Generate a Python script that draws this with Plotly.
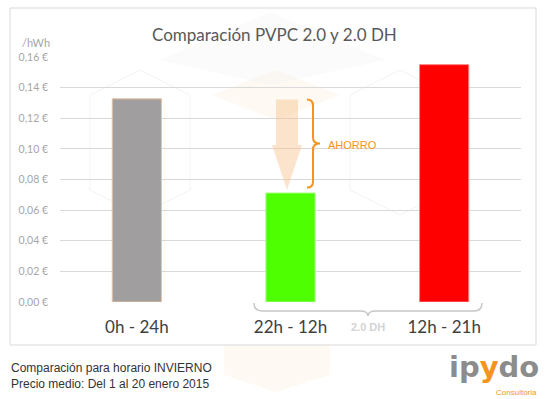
import plotly.graph_objects as go

# ---- data ----
categories = ["0h - 24h", "22h - 12h", "12h - 21h"]
values = [0.1327, 0.0712, 0.155]
bar_colors = ["#a09e9e", "#4dff00", "#ff0000"]
bar_lines = ["#e6c3a5", "#a8ff80", "#ff8080"]
y_ticks = [0.00, 0.02, 0.04, 0.06, 0.08, 0.10, 0.12, 0.14, 0.16]
y_ticktext = [f"{v:.2f}".replace(".", ",") + " €" for v in y_ticks]

W, H = 546, 399
L, R, T, B = 60, 25, 57, 97
PW, PH = W - L - R, H - T - B


def px(x):
    return (x - L) / PW


def py(y):
    return (H - B - y) / PH


def dx(x):  # pixel -> category data coordinate
    return (x - L) / PW * 3 - 0.5


def dy(y):  # pixel -> value
    return (H - B - y) / PH * 0.16


def poly(pts):
    return "M " + " L ".join(f"{px(a)},{py(b)}" for a, b in pts) + " Z"


fig = go.Figure()
fig.add_trace(go.Bar(
    x=categories, y=values,
    marker=dict(color=bar_colors, line=dict(color=bar_lines, width=1)),
    width=0.32, showlegend=False, hoverinfo="skip",
))

shapes = []
# faint watermark
wm_fill = "rgba(253,238,220,0.35)"
wm_gray = "rgba(238,238,238,0.25)"
shapes.append(dict(type="path", xref="paper", yref="paper",
                   path=poly([(224, 345), (224, 375), (276, 392), (330, 375), (330, 345)]),
                   fillcolor=wm_fill, line=dict(width=0), layer="below"))
shapes.append(dict(type="path", xref="paper", yref="paper",
                   path=poly([(212, 95), (276, 70), (340, 95), (276, 120)]),
                   fillcolor=wm_fill, line=dict(width=0), layer="below"))
shapes.append(dict(type="path", xref="paper", yref="paper",
                   path=poly([(160, 60), (270, 12), (385, 60), (270, 85)]),
                   fillcolor=wm_gray, line=dict(width=0), layer="below"))
for cx in (140, 400):
    shapes.append(dict(type="path", xref="paper", yref="paper",
                       path=poly([(cx - 50, 95), (cx, 70), (cx + 50, 95), (cx + 50, 190),
                                  (cx, 215), (cx - 50, 190)]),
                       fillcolor="rgba(0,0,0,0)", line=dict(color="rgba(232,232,232,0.5)", width=1),
                       layer="below"))
# outer frame
shapes.append(dict(type="rect", xref="paper", yref="paper", x0=px(10), x1=px(536),
                   y0=py(345), y1=py(8), line=dict(color="#d9d9d9", width=1), layer="below"))

# arrow (semi-transparent)
ax0, ax1 = dx(276), dx(298)
hx0, hx1, tipx = dx(272), dx(302), dx(287)
top, hy, tip = values[0] - 0.0005, dy(145), values[1] + 0.002
shapes.append(dict(type="path", xref="x", yref="y",
                   path=f"M {ax0},{top} L {ax1},{top} L {ax1},{hy} L {hx1},{hy} L {tipx},{tip} L {hx0},{hy} L {ax0},{hy} Z",
                   fillcolor="rgba(247,195,140,0.45)", line=dict(width=0)))

# brace
bt, bb = values[0] - 0.0005, values[1] + 0.0035
bm = (bt + bb) / 2
xe, xm, xp = dx(307), dx(313), dx(320)
r = 0.004
shapes.append(dict(type="path", xref="x", yref="y",
                   path=(f"M {xe},{bt} Q {xm},{bt} {xm},{bt - r} L {xm},{bm + r} "
                         f"Q {xm},{bm} {xp},{bm} Q {xm},{bm} {xm},{bm - r} L {xm},{bb + r} "
                         f"Q {xm},{bb} {xe},{bb}"),
                   line=dict(color="#f7941d", width=2)))

# bracket under 2.0 DH
bx0, bx1, bmid = px(254), px(482), px(368)
yb, ye, yd = py(311), py(303), py(316)
e = (px(262) - px(254))
shapes.append(dict(type="path", xref="paper", yref="paper",
                   path=(f"M {bx0},{ye} Q {bx0},{yb} {bx0 + e},{yb} L {bmid - e},{yb} "
                         f"Q {bmid},{yb} {bmid},{yd} Q {bmid},{yb} {bmid + e},{yb} "
                         f"L {bx1 - e},{yb} Q {bx1},{yb} {bx1},{ye}"),
                   line=dict(color="#c8c8c8", width=1.5)))


def ann(text, x, y, size, color, family="Liberation Sans", xanchor="center", align="center"):
    return dict(text=text, xref="paper", yref="paper", x=px(x), y=py(y), xanchor=xanchor,
                yanchor="middle", align=align, showarrow=False,
                font=dict(family=family, size=size, color=color))


annotations = [
    ann("Comparación PVPC 2.0 y 2.0 DH", 274, 34, 17, "#595959", "Lato"),
    ann("/hWh", 52, 43, 11, "#a6a6a6", "Lato", "right"),
    ann("AHORRO", 326, 145, 11, "#f7941d", xanchor="left"),
    ann("<b>2.0 DH</b>", 368, 327, 11, "#d3d3d3"),
    ann("Comparación para horario INVIERNO<br>Precio medio: Del 1 al 20 enero 2015",
        9, 376, 12, "#333333", xanchor="left", align="left"),
    ann("<b>ip<span style='color:#f7941d'>y</span>do</b>", 541, 367, 29, "#8c8c8c", "DejaVu Sans", "right"),
    ann("Consultoria", 539, 392, 8, "#f7941d", xanchor="right"),
]

fig.update_layout(
    width=W, height=H,
    margin=dict(l=L, r=R, t=T, b=B),
    paper_bgcolor="white", plot_bgcolor="rgba(0,0,0,0)",
    shapes=shapes, annotations=annotations,
    showlegend=False,
    xaxis=dict(range=[-0.5, 2.5], showgrid=False, zeroline=False, showline=False,
               tickfont=dict(family="Lato", size=17, color="#404040"),
               ticklabelstandoff=13, fixedrange=True),
    yaxis=dict(range=[0, 0.16], tickvals=y_ticks, ticktext=y_ticktext,
               showgrid=True, gridcolor="#d9d9d9", gridwidth=1, zeroline=False,
               tickfont=dict(family="Lato", size=10.5, color="#a6a6a6"),
               ticklabelstandoff=11, fixedrange=True),
)

fig.write_html("out.html", config={"displayModeBar": False},
               post_script="document.body.style.margin='0';")
